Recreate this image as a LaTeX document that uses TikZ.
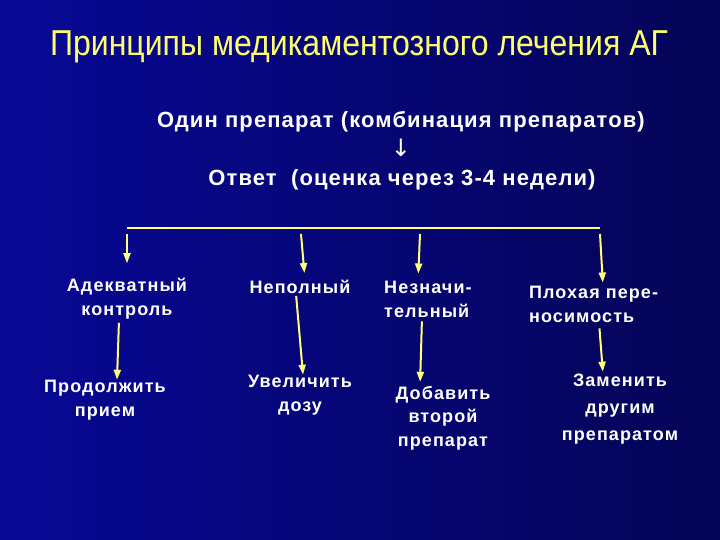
\documentclass[tikz,border=0pt]{standalone}
\usepackage{fontspec}
\setmainfont{Liberation Sans}
\newfontfamily\arrowfont{DejaVu Sans}
\usetikzlibrary{arrows.meta}
\definecolor{slideblue}{RGB}{8,8,150}
\definecolor{slidenavy}{RGB}{4,4,86}
\definecolor{titleyellow}{RGB}{255,255,110}
\definecolor{lineyellow}{RGB}{255,255,120}

\begin{document}
\begin{tikzpicture}[x=1pt, y=-1pt,
  heading/.style={text=titleyellow, font=\fontsize{36}{40}\selectfont},
  headline/.style={text=white, font=\fontsize{22}{26}\selectfont\bfseries\addfontfeature{LetterSpace=5}},
  outcome/.style={text=white, align=center, inner sep=0pt, font=\fontsize{18}{24}\selectfont\bfseries\addfontfeature{LetterSpace=6}},
  bar/.style={draw=lineyellow, line width=2.6pt},
  line/.style={draw=lineyellow, line width=2pt, -{Triangle[width=7pt,length=10pt]}}
]
\shade[left color=slideblue, middle color=slideblue, right color=slidenavy] (0,0) rectangle (720,540);

\node[heading] (title) at (359,47) {\scalebox{0.89}[1]{Принципы медикаментозного лечения АГ}};
\node[headline] (drug) at (401,122) {Один препарат (комбинация препаратов)};
\node[text=white, font=\fontsize{24}{26}\selectfont\arrowfont] (down) at (401,148) {↓};
\node[headline] (resp) at (402,180) {Ответ\ \ (оценка через 3-4 недели)};

\coordinate (bl) at (127,228);
\coordinate (br) at (600,228);
\coordinate (b1) at (127,234);
\coordinate (b2) at (301,234);
\coordinate (b3) at (420,234);
\coordinate (b4) at (600,234);
\path[bar] (bl) -- (br);

\node[outcome] (adeq) at (127,299) {Адекватный\\контроль};
\node[outcome] (part) at (300,287) {Неполный};
\node[outcome, align=left, anchor=west] (minor) at (384,299) {Незначи-\\тельный};
\node[outcome, align=left, anchor=west] (intol) at (529,304) {Плохая пере-\\носимость};

\node[outcome] (cont) at (105,400) {Продолжить\\прием};
\node[outcome] (dose) at (300,395) {Увеличить\\дозу};
\node[outcome, font=\fontsize{18}{23.5}\selectfont\bfseries\addfontfeature{LetterSpace=6}] (add) at (443,418) {Добавить\\второй\\препарат};
\node[outcome, font=\fontsize{18}{27}\selectfont\bfseries\addfontfeature{LetterSpace=6}] (swap) at (620,409) {Заменить\\другим\\препаратом};

\path[line, shorten >=15pt] (b1) -- (adeq.north -| b1);
\path[line, shorten >=7pt] (b2) -- ([xshift=5pt]part.north);
\path[line, shorten >=7pt] (b3) -- ([xshift=-2pt]minor.north west -| b3);
\path[line, shorten >=3pt] (b4) -- ([xshift=3pt]intol.north west -| b4);

\path[line, shorten <=3pt] ([xshift=-8pt]adeq.south) -- ([xshift=12pt]cont.north);
\path[line, shorten <=2pt] ([xshift=-4pt]part.south) -- ([xshift=3pt]dose.north);
\path[line, shorten <=4pt, shorten >=4pt] ([xshift=38pt]minor.south west) -- ([xshift=-23pt]add.north);
\path[line, shorten <=6pt, shorten >=2pt] ([xshift=70pt]intol.south west) -- ([xshift=-17pt]swap.north);
\end{tikzpicture}
\end{document}
